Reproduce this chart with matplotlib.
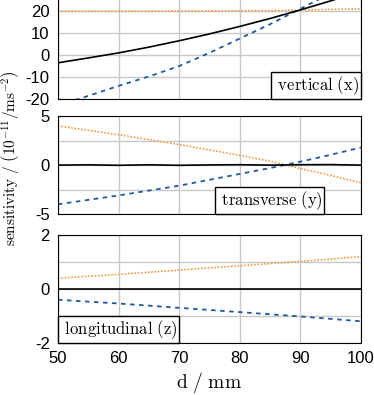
import numpy as np
import matplotlib
matplotlib.use('Agg')
from matplotlib import pyplot as plt

plt.rcParams['mathtext.fontset'] = 'cm'
plt.rcParams['font.family'] = 'Liberation Sans'

d = [50, 55, 60, 65, 70, 75, 80, 85, 90, 95, 100]

# vertical (x)
x_solid = [-3.5, -1.3, 1.0, 3.6, 6.5, 9.6, 13.0, 16.6, 20.5, 24.6, 29.0]
x_dash = [-23.0, -18.5, -14.0, -9.7, -5.0, 1.0, 7.5, 14.0, 21.0, 28.0, 35.0]
x_dot = [19.9, 19.9, 19.9, 19.9, 20.0, 20.0, 20.1, 20.2, 20.4, 20.7, 21.0]

# transverse (y)
y_solid = [0.0, 0.03, -0.02, 0.03, -0.02, 0.02, 0.04, 0.0, 0.04, 0.05, 0.0]
y_dash = [-4.0, -3.55, -3.1, -2.6, -2.1, -1.5, -0.9, -0.3, 0.35, 1.05, 1.8]
y_dot = [4.0, 3.55, 3.1, 2.6, 2.1, 1.55, 1.0, 0.4, -0.35, -1.05, -1.8]

# longitudinal (z)
z_solid = [0.0] * 11
z_dash = [-0.4, -0.47, -0.54, -0.62, -0.7, -0.78, -0.86, -0.94, -1.02, -1.11, -1.2]
z_dot = [0.4, 0.47, 0.54, 0.62, 0.7, 0.78, 0.86, 0.94, 1.02, 1.11, 1.2]

panels = [
    (x_solid, x_dash, x_dot, (-20, 25), [-20, -10, 0, 10, 20], [-20, -10, 0, 10, 20]),
    (y_solid, y_dash, y_dot, (-5, 5), [-5, 0, 5], [-2.5, 2.5]),
    (z_solid, z_dash, z_dot, (-2, 2), [-2, 0, 2], [-1, 1]),
]
rects = [[0.155, 0.749, 0.81, 0.251],
         [0.155, 0.458, 0.81, 0.248],
         [0.155, 0.132, 0.81, 0.273]]

blue = '#1f5aa0'
orange = '#f39a45'

fig = plt.figure(figsize=(3.74, 3.95), dpi=100)
axes = []
for rect, (s, dsh, dt, ylim, ticks, minor) in zip(rects, panels):
    ax = fig.add_axes(rect)
    ax.plot(d, dt, color=orange, ls=(0, (1, 1)), lw=1.2)
    ax.plot(d, dsh, color=blue, ls=(0, (2.5, 2.5)), lw=1.3)
    ax.plot(d, s, color='black', lw=1.2)
    ax.set_xlim(50, 100)
    ax.set_ylim(*ylim)
    ax.set_yticks(ticks)
    ax.set_yticks(minor, minor=True)
    ax.set_xticks([50, 60, 70, 80, 90, 100])
    ax.grid(True, which='both', color='#c8c8c8', lw=1)
    ax.set_axisbelow(True)
    ax.tick_params(length=0, labelsize=12, which='both', pad=6)
    axes.append(ax)

axes[0].set_yticklabels(['-20', '-10', '0', '10', '20'])
axes[1].set_yticklabels(['-5', '0', '5'])
axes[2].set_yticklabels(['-2', '0', '2'])
axes[0].spines['top'].set_visible(False)
for ax in axes[:2]:
    ax.set_xticklabels([])

box = dict(boxstyle='square,pad=0.12', fc='white', ec='black', lw=1)
off = 1.5
axes[0].annotate(r'$\mathrm{\ vertical\ (x)\ }$', xy=(1, 0), xycoords='axes fraction',
                 xytext=(-off, off), textcoords='offset points',
                 ha='right', va='bottom', fontsize=12, bbox=box)
axes[1].annotate(r'$\mathrm{\ transverse\ (y)\ }$', xy=(0.698, 0), xycoords='axes fraction',
                 xytext=(0, off), textcoords='offset points',
                 ha='center', va='bottom', fontsize=12, bbox=box)
axes[2].annotate(r'$\mathrm{\ longitudinal\ (z)\ }$', xy=(0, 0), xycoords='axes fraction',
                 xytext=(off, off), textcoords='offset points',
                 ha='left', va='bottom', fontsize=12, bbox=box)

axes[2].set_xlabel(r'$\mathrm{d\ /\ mm}$', fontsize=14, labelpad=3)
fig.text(0.028, 0.6, r'$\mathrm{sensitivity\ /\ \left(10^{-11}/ms^{-2}\right)}$', rotation=90,
         ha='center', va='center', fontsize=11)

fig.savefig('out.png', dpi=100)
